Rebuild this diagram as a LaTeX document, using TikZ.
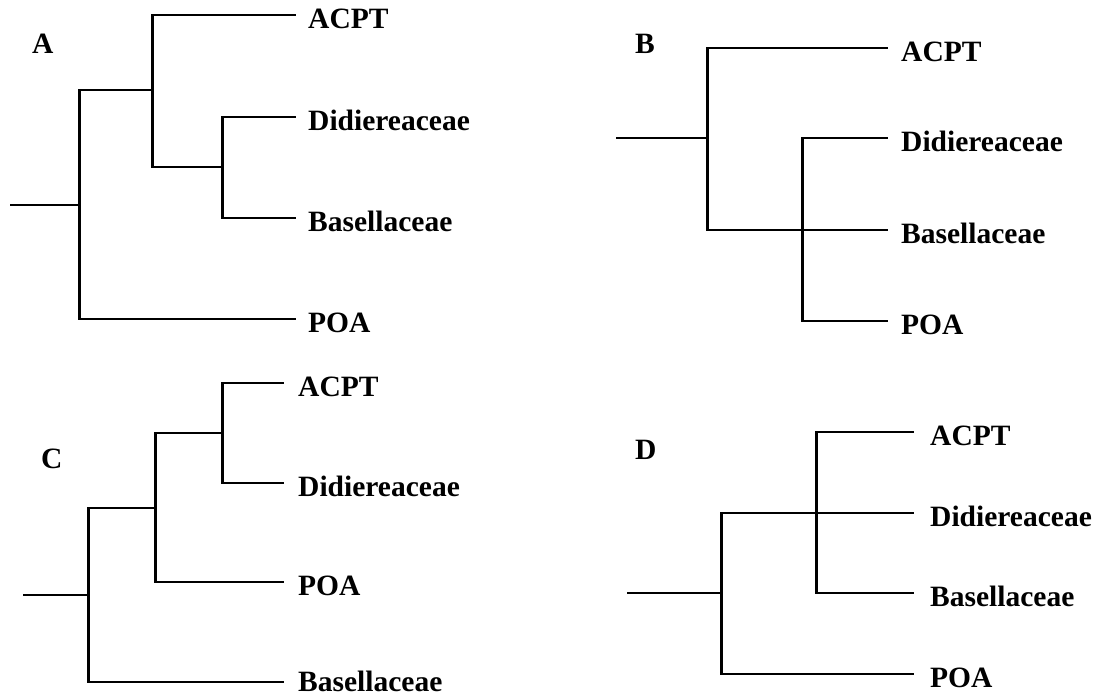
\documentclass[tikz,border=0pt]{standalone}
\usepackage{fontspec}
\setmainfont{Liberation Serif}
\begin{document}
\begin{tikzpicture}[x=1pt,y=-1pt,
  lab/.style={anchor=base west,inner sep=0pt,font=\fontsize{29.5}{32}\selectfont\bfseries},
  hbr/.style={line width=2.3pt,line cap=rect},
  vbr/.style={line width=3pt,line cap=butt},
  rootbr/.style={line width=1.9pt}]
\useasboundingbox[fill=white] (0,0) rectangle (1093,696);

% ---------------- Panel A ----------------
\node[lab] (A) at (32,53) {A};
\coordinate (a0) at (10,205);
\coordinate (a1) at (79,205);
\coordinate (a1t) at (79,90);
\coordinate (a1b) at (79,319);
\coordinate (a2) at (152,90);
\coordinate (a2t) at (152,15);
\coordinate (a2b) at (152,167);
\coordinate (a3) at (222,167);
\coordinate (a3t) at (222,117);
\coordinate (a3b) at (222,218);
\coordinate (aE1) at (295,15);
\coordinate (aE2) at (295,117);
\coordinate (aE3) at (295,218);
\coordinate (aE4) at (295,319);
\node[lab] (aL1) at (308,28) {ACPT};
\node[lab] (aL2) at (308,130) {Didiereaceae};
\node[lab] (aL3) at (308,231) {Basellaceae};
\node[lab] (aL4) at (308,332) {POA};
\draw[rootbr] (a0) -- (a1);
\draw[vbr] (a1t) -- (a1b);
\draw[hbr] (a1t) -- (a2);
\draw[vbr] (a2t) -- (a2b);
\draw[hbr] (a2t) -- (aE1);
\draw[hbr] (a2b) -- (a3);
\draw[vbr] (a3t) -- (a3b);
\draw[hbr] (a3t) -- (aE2);
\draw[hbr] (a3b) -- (aE3);
\draw[hbr] (a1b) -- (aE4);

% ---------------- Panel B ----------------
\node[lab] (B) at (635,53) {B};
\coordinate (b0) at (616,138);
\coordinate (b1) at (707,138);
\coordinate (b1t) at (707,48);
\coordinate (b1b) at (707,230);
\coordinate (b2t) at (802,138);
\coordinate (b2b) at (802,321);
\coordinate (bE1) at (887,48);
\coordinate (bE2) at (887,138);
\coordinate (bE3) at (887,230);
\coordinate (bE4) at (887,321);
\node[lab] (bL1) at (901,61) {ACPT};
\node[lab] (bL2) at (901,151) {Didiereaceae};
\node[lab] (bL3) at (901,243) {Basellaceae};
\node[lab] (bL4) at (901,334) {POA};
\draw[rootbr] (b0) -- (b1);
\draw[vbr] (b1t) -- (b1b);
\draw[hbr] (b1t) -- (bE1);
\draw[hbr] (b1b) -- (bE3);
\draw[vbr] (b2t) -- (b2b);
\draw[hbr] (b2t) -- (bE2);
\draw[hbr] (b2b) -- (bE4);

% ---------------- Panel C ----------------
\node[lab] (C) at (41,468) {C};
\coordinate (c0) at (23,595);
\coordinate (c1) at (88,595);
\coordinate (c1t) at (88,508);
\coordinate (c1b) at (88,682);
\coordinate (c2) at (155,508);
\coordinate (c2t) at (155,433);
\coordinate (c2b) at (155,582);
\coordinate (c3) at (222,433);
\coordinate (c3t) at (222,383);
\coordinate (c3b) at (222,483);
\coordinate (cE1) at (283,383);
\coordinate (cE2) at (283,483);
\coordinate (cE3) at (283,582);
\coordinate (cE4) at (283,682);
\node[lab] (cL1) at (298,396) {ACPT};
\node[lab] (cL2) at (298,496) {Didiereaceae};
\node[lab] (cL3) at (298,595) {POA};
\node[lab] (cL4) at (298,691) {Basellaceae};
\draw[rootbr] (c0) -- (c1);
\draw[vbr] (c1t) -- (c1b);
\draw[hbr] (c1t) -- (c2);
\draw[vbr] (c2t) -- (c2b);
\draw[hbr] (c2t) -- (c3);
\draw[vbr] (c3t) -- (c3b);
\draw[hbr] (c3t) -- (cE1);
\draw[hbr] (c3b) -- (cE2);
\draw[hbr] (c2b) -- (cE3);
\draw[hbr] (c1b) -- (cE4);

% ---------------- Panel D ----------------
\node[lab] (D) at (635,459) {D};
\coordinate (d0) at (627,593);
\coordinate (d1) at (721,593);
\coordinate (d1t) at (721,513);
\coordinate (d1b) at (721,674);
\coordinate (d2t) at (816,432);
\coordinate (d2b) at (816,593);
\coordinate (dE1) at (913,432);
\coordinate (dE2) at (913,513);
\coordinate (dE3) at (913,593);
\coordinate (dE4) at (913,674);
\node[lab] (dL1) at (930,445) {ACPT};
\node[lab] (dL2) at (930,526) {Didiereaceae};
\node[lab] (dL3) at (930,606) {Basellaceae};
\node[lab] (dL4) at (930,687) {POA};
\draw[rootbr] (d0) -- (d1);
\draw[vbr] (d1t) -- (d1b);
\draw[hbr] (d1t) -- (dE2);
\draw[vbr] (d2t) -- (d2b);
\draw[hbr] (d2t) -- (dE1);
\draw[hbr] (d2b) -- (dE3);
\draw[hbr] (d1b) -- (dE4);
\end{tikzpicture}
\end{document}
